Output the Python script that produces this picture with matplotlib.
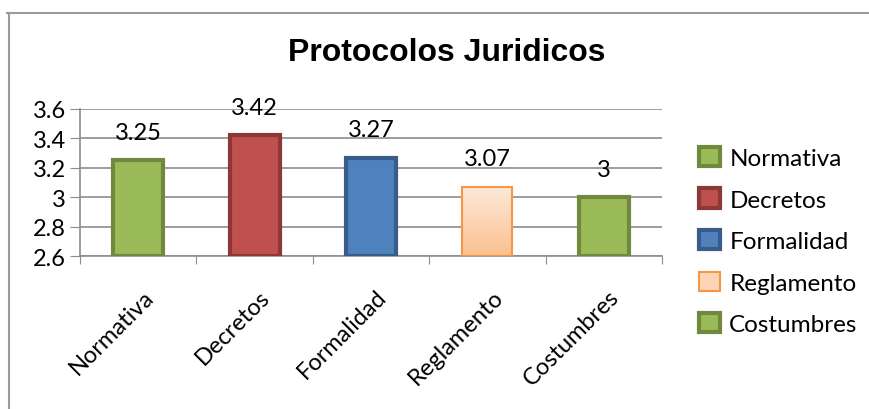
import matplotlib
matplotlib.use("Agg")
import matplotlib.pyplot as plt
import numpy as np
from matplotlib.patches import Rectangle, Patch
from matplotlib.lines import Line2D
from matplotlib.colors import LinearSegmentedColormap

categories = ["Normativa", "Decretos", "Formalidad", "Reglamento", "Costumbres"]
values = [3.25, 3.42, 3.27, 3.07, 3.0]
value_labels = ["3.25", "3.42", "3.27", "3.07", "3"]
yticks = [2.6, 2.8, 3.0, 3.2, 3.4, 3.6]
ytick_labels = ["2.6", "2.8", "3", "3.2", "3.4", "3.6"]
title = "Protocolos Juridicos"

fills = ["#9BBB59", "#C0504D", "#4F81BD", None, "#9BBB59"]
edges = ["#71893F", "#8C3836", "#385D8A", "#F79646", "#71893F"]

FONT = "Lato"
FS = 17

fig = plt.figure(figsize=(8.7, 4.1), dpi=100)
# outer frame
fig.add_artist(Line2D([7/870, 1.0], [1-14/410, 1-14/410], transform=fig.transFigure,
                      color="#9a9a9a", lw=1.5))
fig.add_artist(Line2D([9/870, 9/870], [0, 1-14/410], transform=fig.transFigure,
                      color="#9a9a9a", lw=1.5))

ax = fig.add_axes([80/870, 1-257/410, (662-80)/870, (257-110)/410])
x = np.arange(len(categories))
ax.set_xlim(-0.5, len(categories)-0.5)
ax.set_ylim(2.6, 3.6)
bw = 0.43
for i, (v, fc, ec) in enumerate(zip(values, fills, edges)):
    if fc is None:
        rect = Rectangle((x[i]-bw/2, 2.6), bw, v-2.6, facecolor="none",
                         edgecolor=ec, lw=1.5, zorder=4)
        cmap = LinearSegmentedColormap.from_list("g", ["#FDEADA", "#FAC090"])
        grad = np.linspace(0, 1, 256).reshape(-1, 1)
        im = ax.imshow(grad, cmap=cmap, aspect="auto", origin="upper",
                       extent=(x[i]-bw/2, x[i]+bw/2, 2.6, v), zorder=3)
        clip = Rectangle((x[i]-bw/2, 2.6), bw, v-2.6, transform=ax.transData)
        im.set_clip_path(clip)
        ax.add_patch(rect)
    else:
        ax.bar(x[i], v-2.6, bottom=2.6, width=bw, color=fc, edgecolor=ec,
               linewidth=3, zorder=3)
    ax.text(x[i], v+0.12, value_labels[i], ha="center", va="bottom",
            fontsize=FS, family=FONT, zorder=5)

ax.set_xlim(-0.5, len(categories)-0.5)
ax.set_ylim(2.6, 3.6)
ax.set_yticks(yticks)
ax.set_yticklabels(ytick_labels, fontsize=FS, family=FONT)
ax.yaxis.grid(True, color="#8c8c8c", lw=1.2, zorder=0)
ax.set_axisbelow(True)
for s in ["top", "right"]:
    ax.spines[s].set_visible(False)
ax.spines["left"].set_color("#8c8c8c")
ax.spines["bottom"].set_color("#8c8c8c")
ax.spines["left"].set_linewidth(1.2)
ax.spines["bottom"].set_linewidth(1.2)
ax.tick_params(axis="y", length=7, color="#8c8c8c", pad=3)
ax.set_xticks(np.arange(len(categories)+1)-0.5, minor=False)
ax.set_xticklabels([])
ax.tick_params(axis="x", length=6, color="#8c8c8c", direction="out")
for i, c in enumerate(categories):
    ax.text(x[i]+0.04, 2.6-0.2, c, rotation=45, ha="right", va="top",
            rotation_mode="anchor", fontsize=FS, family=FONT)

fig.text(0.514, 1-53/410, title, ha="center", va="center", fontsize=23,
         fontweight="bold", family="Liberation Sans")

handles = [Patch(facecolor=fc if fc else "#FBD5B5", edgecolor=ec, linewidth=3 if fc else 1.5)
           for fc, ec in zip(fills, edges)]
leg = fig.legend(handles, categories, loc="upper left",
                 bbox_to_anchor=(677/870, 1-126/410), frameon=False,
                 prop={"family": FONT, "size": 17.5}, handlelength=0.85,
                 handleheight=0.85, labelspacing=0.8, handletextpad=0.4)

fig.savefig("out.png", dpi=100)
